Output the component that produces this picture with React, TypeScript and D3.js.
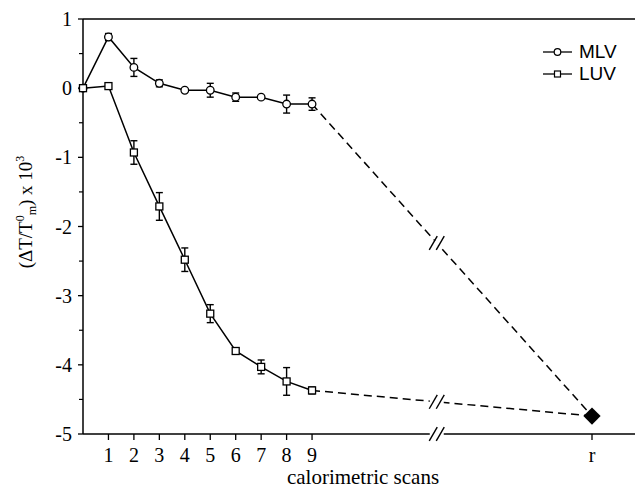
import React from "react";
import * as d3 from "d3";

// scan index 0..9, "r" sits at a broken-axis position
const SCANS = [0, 1, 2, 3, 4, 5, 6, 7, 8, 9];
const MLV = [0, 0.74, 0.3, 0.07, -0.03, -0.03, -0.13, -0.13, -0.23, -0.23];
const MLV_ERR = [0, 0.05, 0.13, 0.05, 0.02, 0.1, 0.06, 0.02, 0.13, 0.09];
const LUV = [0, 0.03, -0.93, -1.71, -2.48, -3.26, -3.8, -4.03, -4.24, -4.37];
const LUV_ERR = [0, 0.01, 0.17, 0.2, 0.17, 0.13, 0.01, 0.1, 0.2, 0.05];
const R_POS = 20;
const R_VALUE = -4.74;
const BREAK_POS = 13.9;
const X_TICKS = ["1", "2", "3", "4", "5", "6", "7", "8", "9"];
const Y_TICKS = [1, 0, -1, -2, -3, -4, -5];

const W = 635;
const H = 490;
const left = 83, top = 19, bottom = 434;

function BreakMark({ cx, cy }: { cx: number; cy: number }) {
  // two short slashes with a white gap between
  const len = 8;
  const dx = len * Math.cos(Math.PI / 3), dy = len * Math.sin(Math.PI / 3);
  return (
    <g>
      <line x1={cx - 7} y1={cy} x2={cx + 7} y2={cy} stroke="white" strokeWidth={5} />
      {[-3.5, 3.5].map((o, i) => (
        <line key={i} x1={cx + o - dx} y1={cy + dy} x2={cx + o + dx} y2={cy - dy} stroke="#000" strokeWidth={1.4} />
      ))}
    </g>
  );
}

export default function App() {
  const x = d3.scaleLinear().domain([0, R_POS]).range([left, 592]);
  const y = d3.scaleLinear().domain([-5, 1]).range([bottom, top]);
  const line = d3.line<number>().x((_, i) => x(SCANS[i])).y((d) => y(d));

  const breakY = (v: number) => {
    const t = (BREAK_POS - 9) / (R_POS - 9);
    return y(v + (R_VALUE - v) * t);
  };

  const errBars = (vals: number[], errs: number[]) =>
    vals.map((v, i) =>
      errs[i] > 0.03 ? (
        <g key={i} stroke="#000" strokeWidth={1.4}>
          <line x1={x(SCANS[i])} x2={x(SCANS[i])} y1={y(v + errs[i])} y2={y(v - errs[i])} />
          <line x1={x(SCANS[i]) - 3.5} x2={x(SCANS[i]) + 3.5} y1={y(v + errs[i])} y2={y(v + errs[i])} />
          <line x1={x(SCANS[i]) - 3.5} x2={x(SCANS[i]) + 3.5} y1={y(v - errs[i])} y2={y(v - errs[i])} />
        </g>
      ) : null
    );

  const minor = d3.range(-4.5, 1, 1);
  const serif = "'Liberation Serif', 'Times New Roman', serif";
  const sans = "'Liberation Sans', Arial, sans-serif";

  return (
    <svg width={W} height={H} style={{ position: "absolute", left: 0, top: 0, background: "#fff" }}>
      {/* frame */}
      <g stroke="#000" strokeWidth={1.5} fill="none">
        <line x1={left} x2={W} y1={top} y2={top} />
        <line x1={left} x2={W} y1={bottom} y2={bottom} />
        <line x1={left} x2={left} y1={top} y2={bottom} />
      </g>

      {/* y ticks */}
      {Y_TICKS.map((t) => (
        <g key={t}>
          <line x1={left - 5} x2={left} y1={y(t)} y2={y(t)} stroke="#000" strokeWidth={1.3} />
          <text x={72} y={y(t) + 7} textAnchor="end" fontFamily={serif} fontSize={20}>
            {t}
          </text>
        </g>
      ))}
      {minor.map((t) => (
        <line key={t} x1={left - 4} x2={left} y1={y(t)} y2={y(t)} stroke="#000" strokeWidth={1.2} />
      ))}

      {/* x ticks */}
      {X_TICKS.map((t, i) => (
        <g key={t}>
          <line x1={x(i + 1)} x2={x(i + 1)} y1={bottom} y2={bottom + 6} stroke="#000" strokeWidth={1.3} />
          <text x={x(i + 1)} y={462} textAnchor="middle" fontFamily={serif} fontSize={20}>
            {t}
          </text>
        </g>
      ))}
      <line x1={x(R_POS)} x2={x(R_POS)} y1={bottom} y2={bottom + 6} stroke="#000" strokeWidth={1.3} />
      <text x={x(R_POS)} y={462} textAnchor="middle" fontFamily={serif} fontSize={20}>
        r
      </text>

      {/* axis titles */}
      <text x={363} y={484} textAnchor="middle" fontFamily={serif} fontSize={21}>
        calorimetric scans
      </text>
      <text transform="translate(32,212) rotate(-90)" textAnchor="middle" fontFamily={serif} fontSize={19}>
        (ΔT/T<tspan fontSize={12} dy={-8}>0</tspan>
        <tspan fontSize={12} dy={12}>m</tspan>
        <tspan dy={-4}>) x 10</tspan>
        <tspan fontSize={12} dy={-8}>3</tspan>
      </text>

      {/* dashed lines to r */}
      <g stroke="#000" strokeWidth={1.5} strokeDasharray="8,5" fill="none">
        <line x1={x(9)} y1={y(MLV[9])} x2={x(R_POS)} y2={y(R_VALUE)} />
        <line x1={x(9)} y1={y(LUV[9])} x2={x(R_POS)} y2={y(R_VALUE)} />
      </g>
      <BreakMark cx={x(BREAK_POS)} cy={breakY(MLV[9])} />
      <BreakMark cx={x(BREAK_POS)} cy={breakY(LUV[9])} />
      <BreakMark cx={x(BREAK_POS)} cy={bottom} />

      {/* series lines */}
      <path d={line(MLV) || ""} stroke="#000" strokeWidth={1.5} fill="none" />
      <path d={line(LUV) || ""} stroke="#000" strokeWidth={1.5} fill="none" />
      {errBars(MLV, MLV_ERR)}
      {errBars(LUV, LUV_ERR)}

      {MLV.map((v, i) => (
        <circle key={i} cx={x(SCANS[i])} cy={y(v)} r={3.8} fill="#fff" stroke="#000" strokeWidth={1.3} />
      ))}
      {LUV.map((v, i) => (
        <rect key={i} x={x(SCANS[i]) - 3.5} y={y(v) - 3.5} width={7} height={7} fill="#fff" stroke="#000" strokeWidth={1.3} />
      ))}

      {/* r point */}
      <path
        d={d3.symbol(d3.symbolDiamond2, 190)() || ""}
        transform={`translate(${x(R_POS)},${y(R_VALUE)})`}
        fill="#000"
      />

      {/* legend */}
      <g>
        <line x1={543} x2={572} y1={52} y2={52} stroke="#000" strokeWidth={1.3} />
        <circle cx={557.5} cy={52} r={3.3} fill="#fff" stroke="#000" strokeWidth={1.2} />
        <text x={579} y={58} fontFamily={sans} fontSize={19}>MLV</text>
        <line x1={543} x2={572} y1={74} y2={74} stroke="#000" strokeWidth={1.3} />
        <rect x={554.5} y={71} width={6} height={6} fill="#fff" stroke="#000" strokeWidth={1.2} />
        <text x={579} y={80} fontFamily={sans} fontSize={19}>LUV</text>
      </g>
    </svg>
  );
}
